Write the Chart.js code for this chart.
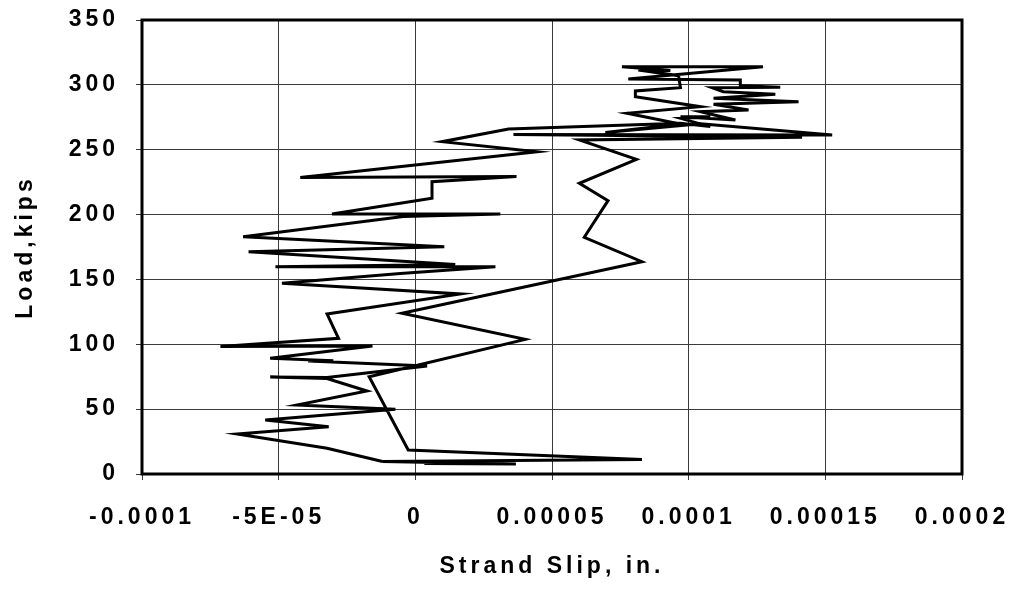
<!DOCTYPE html>
<html>
<head>
<meta charset="utf-8">
<script src="https://cdn.jsdelivr.net/npm/chart.js@4/dist/chart.umd.min.js"></script>
<style>
  html, body { margin: 0; padding: 0; background: #fff; }
  #wrap { width: 1018px; height: 590px; position: relative; }
</style>
</head>
<body>
<div id="wrap"><canvas id="canvasSlip"></canvas></div>
<script>
// strand slip (in.) and load (kips), in drawing order
var slip = [
  0.33e-5, 3.68e-5, -1.20e-5, 8.29e-5, -0.26e-5, -1.69e-5, 4.02e-5, -0.49e-5,
  8.29e-5, 6.18e-5, 7.05e-5, 6.00e-5, 8.09e-5, 6.00e-5, 14.15e-5, 3.59e-5,
  15.25e-5, 10.43e-5, 6.95e-5, 9.70e-5, 7.75e-5, 10.43e-5, 8.05e-5, 8.05e-5,
  9.70e-5, 9.63e-5, 8.16e-5, 9.33e-5, 7.56e-5, 12.72e-5, 7.79e-5, 11.89e-5,
  11.89e-5, 13.35e-5, 10.86e-5, 11.27e-5, 13.17e-5, 10.91e-5, 14.02e-5, 10.91e-5,
  12.19e-5, 10.43e-5, 11.71e-5, 9.70e-5, 10.79e-5, 9.70e-5, 10.79e-5, 9.70e-5,
  3.41e-5, 0.98e-5, 4.45e-5, -4.21e-5, 3.70e-5, 0.61e-5, 0.61e-5, -3.05e-5,
  3.11e-5, -0.44e-5, -6.30e-5, 1.06e-5, -6.10e-5, 1.46e-5, -5.12e-5, 2.93e-5,
  -0.55e-5, -4.88e-5, 1.65e-5, -3.23e-5, -2.81e-5, -7.13e-5, -1.57e-5, -5.31e-5,
  -3.00e-5, -3.92e-5, 0.43e-5, -3.23e-5, -5.31e-5, -3.23e-5, -1.77e-5, -4.33e-5,
  -0.73e-5, -5.49e-5, -3.17e-5, -6.52e-5, -3.23e-5, -1.20e-5
];
var load = [
  8.1, 7.7, 9.6, 11.2, 18.5, 75.0, 103.8, 123.9,
  163.7, 182.5, 210.7, 224.1, 242.6, 257.5, 259.6, 261.7,
  261.4, 270.0, 263.3, 269.8, 278.1, 283.2, 290.9, 295.3,
  297.8, 307.1, 311.5, 311.1, 314.0, 314.0, 304.5, 303.8,
  299.4, 298.1, 297.8, 294.7, 292.7, 289.6, 287.0, 285.0,
  280.6, 279.3, 272.9, 275.5, 275.5, 274.2, 267.8, 270.4,
  266.0, 256.2, 248.5, 228.6, 229.4, 225.3, 212.6, 200.4,
  200.4, 198.5, 182.9, 175.2, 171.4, 161.5, 159.8, 159.8,
  154.6, 147.0, 138.8, 123.4, 104.6, 98.3, 98.7, 89.2,
  87.3, 87.1, 83.3, 74.4, 74.8, 73.6, 64.0, 53.2,
  49.9, 41.6, 36.5, 30.8, 19.8, 9.6
];
var xTickLabels = ['-0.0001', '-5E-05', '0', '0.00005', '0.0001', '0.00015', '0.0002'];
var yTickLabels = ['0', '50', '100', '150', '200', '250', '300', '350'];

var points = [];
for (var i = 0; i < slip.length; i++) {
  points.push({ x: slip[i], y: load[i] });
}

// the old Excel chart draws its text with wide character spacing
var spacing = function(chart) { chart.ctx.letterSpacing = '4px'; };

var framePlugin = {
  id: 'frame',
  beforeUpdate: spacing,
  beforeLayout: spacing,
  beforeDraw: spacing,
  afterDraw: function(chart) {
    var a = chart.chartArea, ctx = chart.ctx;
    ctx.save();
    ctx.lineWidth = 3;
    ctx.strokeStyle = '#000';
    ctx.strokeRect(a.left, a.top, a.right - a.left, a.bottom - a.top);
    ctx.restore();
  }
};

var textFont = { family: 'Liberation Sans', size: 23, weight: 'bold' };

var ctx = document.getElementById('canvasSlip');
var slipChart = new Chart(ctx, {
  type: 'scatter',
  data: {
    datasets: [{
      label: 'Strand Slip',
      data: points,
      showLine: true,
      borderColor: '#000',
      borderWidth: 3,
      pointRadius: 0,
      tension: 0
    }]
  },
  options: {
    responsive: true,
    maintainAspectRatio: false,
    animation: false,
    layout: { padding: { top: 20, right: 56, left: 0, bottom: 0 } },
    plugins: { legend: { display: false }, tooltip: { enabled: false } },
    scales: {
      x: {
        type: 'linear',
        min: -0.0001,
        max: 0.0002,
        afterFit: function(s) {
          s.height = 116;
          s.paddingLeft = 0;
          s.paddingRight = 0;
        },
        afterBuildTicks: function(s) {
          s.ticks = xTickLabels.map(function(t, k) { return { value: -0.0001 + k * 0.00005 }; });
        },
        ticks: {
          color: '#000',
          font: textFont,
          padding: 24,
          maxRotation: 0,
          autoSkip: false,
          callback: function(v, idx) { return xTickLabels[idx]; }
        },
        grid: { color: '#3a3a3a', lineWidth: 1, tickLength: 6, tickColor: '#3a3a3a' },
        border: { display: false },
        title: {
          display: true,
          text: 'Strand Slip, in.',
          color: '#000',
          font: textFont,
          padding: { top: 0, bottom: 10 }
        }
      },
      y: {
        type: 'linear',
        min: 0,
        max: 350,
        afterFit: function(s) {
          s.width = 142;
          s.paddingTop = 0;
          s.paddingBottom = 0;
        },
        afterBuildTicks: function(s) {
          s.ticks = yTickLabels.map(function(t) { return { value: Number(t) }; });
        },
        ticks: {
          color: '#000',
          font: textFont,
          padding: 17,
          callback: function(v, idx) { return yTickLabels[idx]; }
        },
        grid: { color: '#3a3a3a', lineWidth: 1, tickLength: 6, tickColor: '#3a3a3a' },
        border: { display: false },
        title: {
          display: true,
          text: 'Load,kips',
          color: '#000',
          font: textFont,
          padding: { top: 12, bottom: 0 }
        }
      }
    }
  },
  plugins: [framePlugin]
});
</script>
</body>
</html>
